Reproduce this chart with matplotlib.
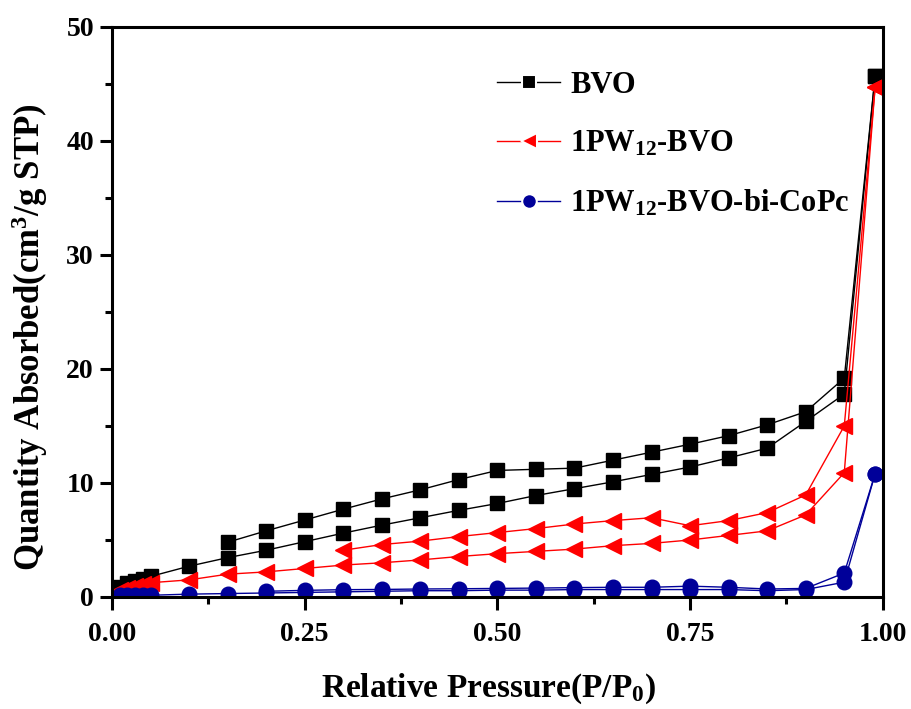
import matplotlib
matplotlib.use('Agg')
import matplotlib.pyplot as plt
from matplotlib.ticker import MultipleLocator, FormatStrFormatter

plt.rcParams['font.family'] = ['Liberation Serif', 'DejaVu Serif']
plt.rcParams['font.weight'] = 'bold'
plt.rcParams['mathtext.fontset'] = 'custom'
plt.rcParams['mathtext.rm'] = 'Liberation Serif:bold'
plt.rcParams['mathtext.bf'] = 'Liberation Serif:bold'
plt.rcParams['mathtext.default'] = 'bf'

# relative pressure points
p_ads = [0.01, 0.02, 0.03, 0.04, 0.05, 0.10, 0.15, 0.20, 0.25, 0.30, 0.35, 0.40,
         0.45, 0.50, 0.55, 0.60, 0.65, 0.70, 0.75, 0.80, 0.85, 0.90, 0.95, 0.99]
p_des_bvo = [0.99, 0.95, 0.90, 0.85, 0.80, 0.75, 0.70, 0.65, 0.60, 0.55, 0.50,
             0.45, 0.40, 0.35, 0.30, 0.25, 0.20, 0.15]
p_des_pw = [0.99, 0.95, 0.90, 0.85, 0.80, 0.75, 0.70, 0.65, 0.60, 0.55, 0.50,
            0.45, 0.40, 0.35, 0.30]
p_des_copc = [0.99, 0.95, 0.90, 0.85, 0.80, 0.75, 0.70, 0.65, 0.60, 0.55, 0.50,
              0.45, 0.40, 0.35, 0.30, 0.25, 0.20]

bvo_ads = [0.9, 1.2, 1.4, 1.6, 1.8, 2.7, 3.45, 4.1, 4.85, 5.6, 6.3, 6.95,
           7.6, 8.2, 8.9, 9.5, 10.1, 10.75, 11.4, 12.2, 13.05, 15.4, 17.8, 45.7]
bvo_des = [45.7, 19.2, 16.25, 15.1, 14.15, 13.4, 12.7, 12.0, 11.3, 11.2, 11.1,
           10.3, 9.4, 8.6, 7.7, 6.75, 5.8, 4.8]

pw_ads = [0.6, 0.8, 1.0, 1.1, 1.25, 1.5, 2.0, 2.2, 2.5, 2.8, 3.0, 3.25,
          3.55, 3.8, 4.0, 4.2, 4.5, 4.7, 5.0, 5.4, 5.8, 7.2, 10.9, 44.7]
pw_des = [44.7, 15.0, 8.95, 7.4, 6.7, 6.25, 6.95, 6.7, 6.4, 6.0, 5.65,
          5.3, 4.9, 4.6, 4.1]

copc_ads = [0.15, 0.15, 0.15, 0.15, 0.15, 0.25, 0.3, 0.35, 0.4, 0.45, 0.5, 0.55,
            0.55, 0.6, 0.6, 0.65, 0.65, 0.65, 0.65, 0.65, 0.55, 0.65, 1.3, 10.8]
copc_des = [10.8, 2.1, 0.75, 0.7, 0.85, 0.95, 0.85, 0.85, 0.82, 0.78, 0.75,
            0.72, 0.7, 0.66, 0.64, 0.58, 0.5]

labels = ['BVO', '1PW$_{12}$-BVO', '1PW$_{12}$-BVO-bi-CoPc']

fig = plt.figure(figsize=(9.12, 7.09), dpi=100)
ax = fig.add_axes([0.1228, 0.158, 0.8452, 0.804])

series = [
    (p_des_bvo, bvo_ads, bvo_des, 'black', 's', 9.5),
    (p_des_pw, pw_ads, pw_des, '#ff0000', '<', 12),
    (p_des_copc, copc_ads, copc_des, '#000099', 'o', 10.5),
]
handles = []
for (p_des, ads, des, color, marker, ms), label in zip(series, labels):
    h, = ax.plot(p_ads, ads, color=color, marker=marker, ms=ms, lw=1.0,
                 mec=color, mfc=color, label=label)
    ax.plot(p_des, des, color=color, marker=marker, ms=ms, lw=1.0,
            mec=color, mfc=color)
    handles.append(h)

ax.set_xlim(0, 1.0)
ax.set_ylim(0, 50)
ax.xaxis.set_major_locator(MultipleLocator(0.25))
ax.xaxis.set_minor_locator(MultipleLocator(0.125))
ax.yaxis.set_major_locator(MultipleLocator(10))
ax.yaxis.set_minor_locator(MultipleLocator(5))
ax.xaxis.set_major_formatter(FormatStrFormatter('%.2f'))
ax.tick_params(which='major', direction='out', length=9, width=2.2,
               labelsize=20)
ax.tick_params(axis='x', which='major', pad=9)
ax.tick_params(axis='y', which='major', pad=4)
ax.tick_params(which='minor', direction='out', length=5, width=2.2)
for s in ax.spines.values():
    s.set_linewidth(2.2)

ax.set_xlabel('Relative Pressure(P/P$_0$)', fontsize=24, fontweight='bold')
ax.set_ylabel('Quantity Absorbed(cm$^3$/g STP)', fontsize=25, fontweight='bold')
ax.xaxis.set_label_coords(0.489, -0.13)
ax.yaxis.set_label_coords(-0.08, 0.456)

leg = ax.legend(handles=handles, loc='upper left', bbox_to_anchor=(0.484, 0.944),
                frameon=False, fontsize=22, handlelength=2.05, handletextpad=0.33,
                labelspacing=0.96, borderaxespad=0, numpoints=1, markerscale=1.0)
# small gap between the legend line and its symbol
for lh in leg.legend_handles:
    lh.set_markeredgecolor('white')
    lh.set_markeredgewidth(1.5)

fig.savefig('out.png', dpi=100)
